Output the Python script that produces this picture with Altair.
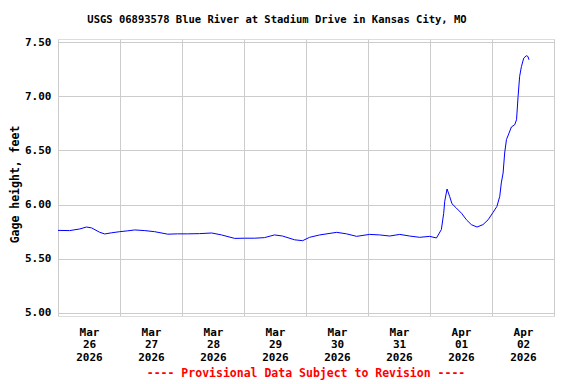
import altair as alt
import pandas as pd

title_text = "USGS 06893578 Blue River at Stadium Drive in Kansas City, MO"
footer_text = "---- Provisional Data Subject to Revision ----"
y_title = "Gage height, feet"

start = "2026-03-26T00:00:00Z"
end = "2026-04-03T00:00:00Z"

# hours since Mar 26 00:00 UTC, gage height in feet
hours = [0, 4.5, 8.4, 11.0, 13.0, 16.1, 18.1, 20.8, 23.9, 27.0, 29.7, 33.6, 37.4,
         42.5, 46.3, 50.2, 54.8, 59.5, 63.3, 68.4, 72.2, 76.1, 79.9, 83.8, 86.9,
         91.6, 94.7, 97.4, 101.3, 107.9, 111.7, 115.6, 120.6, 124.5, 128.4, 132.3,
         136.1, 140.0, 143.9, 146.5, 148.4, 149.3, 149.7, 150.6, 151.6, 152.5,
         154.2, 156.2, 158.1, 160.0, 162.2, 164.5, 166.5, 168.4, 169.9, 171.0,
         171.6, 172.3, 172.9, 173.6, 174.6, 175.5, 176.8, 177.5, 178.1, 178.7,
         179.4, 180.3, 181.3, 181.9, 182.3]
gage = [5.762, 5.76, 5.775, 5.793, 5.785, 5.745, 5.729, 5.74, 5.75, 5.758, 5.766,
        5.76, 5.75, 5.727, 5.73, 5.73, 5.732, 5.738, 5.72, 5.688, 5.69, 5.69,
        5.695, 5.72, 5.71, 5.675, 5.667, 5.698, 5.72, 5.744, 5.73, 5.707, 5.725,
        5.72, 5.71, 5.725, 5.71, 5.698, 5.707, 5.692, 5.77, 5.92, 6.03, 6.144,
        6.076, 6.008, 5.968, 5.92, 5.86, 5.815, 5.793, 5.815, 5.86, 5.928, 5.983,
        6.076, 6.2, 6.291, 6.476, 6.6, 6.66, 6.716, 6.737, 6.783, 6.998, 7.183,
        7.275, 7.352, 7.374, 7.367, 7.337]

t0 = pd.Timestamp(start)
times = [(t0 + pd.Timedelta(hours=h)).strftime("%Y-%m-%dT%H:%M:%SZ") for h in hours]
df = pd.DataFrame({"t": times, "gage": gage})

ms0 = int(pd.Timestamp(start).value // 10**6)
ms1 = int(pd.Timestamp(end).value // 10**6)
day = 86400000
tick_vals = []
for i in range(8):
    tick_vals.append(ms0 + i * day)
    tick_vals.append(ms0 + i * day + day // 2)
tick_vals.append(ms1)

FONT = "DejaVu Sans Mono"

x_axis = alt.Axis(
    values=tick_vals,
    labelExpr="utchours(datum.value) == 12 ? [utcFormat(datum.value, '%b'), utcFormat(datum.value, '%d'), utcFormat(datum.value, '%Y')] : ''",
    gridOpacity={"condition": {"test": "utchours(datum.value) == 12", "value": 0}, "value": 1},
    ticks=False, domain=False, title=None,
    labelFont=FONT, labelFontWeight="bold", labelFontSize=11, labelColor="black",
    labelBaseline="top", labelPadding=10, labelLineHeight=12.5,
    labelOverlap=False, labelFlush=False, labelAlign="center",
    gridColor="#cccccc", gridWidth=1,
)

y_axis = alt.Axis(
    values=[5.0, 5.5, 6.0, 6.5, 7.0, 7.5], format=".2f",
    ticks=False, domain=False,
    labelFont=FONT, labelFontWeight="bold", labelFontSize=11, labelColor="black",
    labelPadding=7,
    gridColor="#cccccc", gridWidth=1,
    title=y_title, titleFont=FONT, titleFontWeight="bold", titleFontSize=11.5,
    titleColor="black", titleAngle=270, titleX=-43, titleY=145,
    titleAlign="center", titleBaseline="middle",
)

line = alt.Chart(df).mark_line(color="#0000ff", strokeWidth=1).encode(
    x=alt.X("t:T", scale=alt.Scale(type="utc", domain=[ms0, ms1]), axis=x_axis),
    y=alt.Y("gage:Q", scale=alt.Scale(domain=[4.972, 7.528], nice=False, zero=False), axis=y_axis),
)

title = alt.Chart(pd.DataFrame({"s": [title_text]})).mark_text(
    font=FONT, fontWeight="bold", fontSize=10.5, color="black", align="center", baseline="middle"
).encode(text="s:N", x=alt.value(219), y=alt.value(-19))

footer = alt.Chart(pd.DataFrame({"s": [footer_text]})).mark_text(
    font=FONT, fontWeight="bold", fontSize=11.5, color="#ff0000", align="center", baseline="middle"
).encode(text="s:N", x=alt.value(248), y=alt.value(335))

chart = alt.layer(line, title, footer).properties(
    width=496, height=277,
    padding={"left": 50, "top": 31, "right": 14, "bottom": 66},
    autosize="none",
).configure_view(stroke="black", strokeWidth=1).configure(background="white")

chart.save("out.html", embed_options={"renderer": "svg", "actions": False})
